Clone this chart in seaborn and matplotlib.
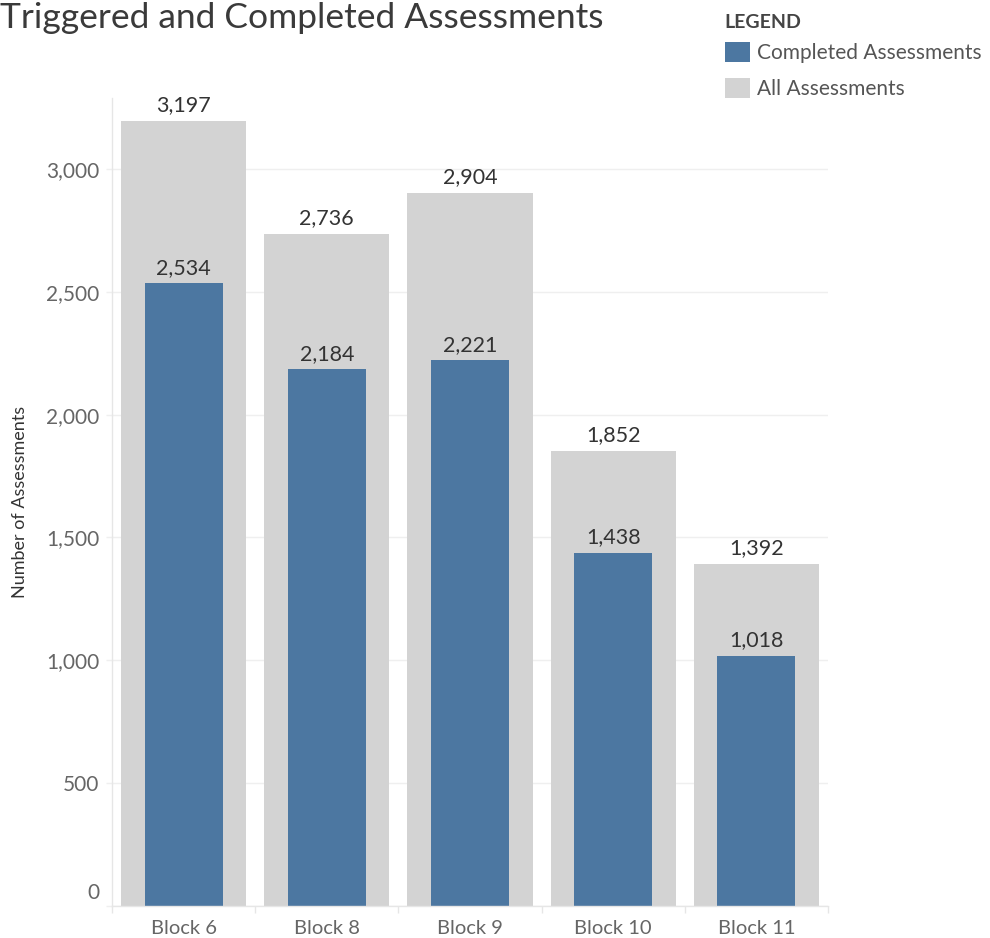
import numpy as np
import pandas as pd
import seaborn as sns
import matplotlib.pyplot as plt
from matplotlib.patches import Patch
from matplotlib.transforms import ScaledTranslation

# data
blocks = ['Block 6', 'Block 8', 'Block 9', 'Block 10', 'Block 11']
all_assessments = [3197, 2736, 2904, 1852, 1392]
completed_assessments = [2534, 2184, 2221, 1438, 1018]
y_ticks = [0, 500, 1000, 1500, 2000, 2500, 3000]

grey = '#d3d3d3'
blue = '#4c77a1'
font = ['Lato', 'DejaVu Sans']

sns.set_style('white')
plt.rcParams['font.family'] = font

df = pd.DataFrame({'block': blocks, 'all': all_assessments, 'completed': completed_assessments})

fig = plt.figure(figsize=(9.9, 9.38), dpi=100)
ax = fig.add_axes([112 / 990, 1 - 906 / 938, 716 / 990, 808 / 938])
ax.set_axisbelow(True)

# grey bars behind, blue bars in front
sns.barplot(data=df, x='block', y='all', color=grey, width=0.875, saturation=1,
            linewidth=0, ax=ax)
sns.barplot(data=df, x='block', y='completed', color=blue, width=0.545, saturation=1,
            linewidth=0, ax=ax)

for cont in ax.containers:
    ax.bar_label(cont, labels=[f'{v:,.0f}' for v in cont.datavalues], padding=4,
                 fontsize=15.5, color='#333333')

ax.set_xlim(-0.5, 4.5)
ax.set_ylim(0, 3289)
ax.set_yticks(y_ticks)
ax.set_yticklabels([f'{v:,}' for v in y_ticks])
ax.set_xticks(np.arange(-0.5, 5, 1), minor=True)
ax.yaxis.grid(True, color='#efefef', lw=1)
ax.tick_params(axis='y', which='major', length=4, width=1, color='#efefef', pad=5,
               labelsize=15, labelcolor='#666666', left=True)
ax.tick_params(axis='x', which='major', length=0, pad=10, labelsize=14.5, labelcolor='#666666')
ax.tick_params(axis='x', which='minor', length=5, width=1, color='#e6e6e6', bottom=True)

for side in ['top', 'right']:
    ax.spines[side].set_visible(False)
for side in ['left', 'bottom']:
    ax.spines[side].set_color('#e6e6e6')
    ax.spines[side].set_linewidth(1)

ax.set_xlabel('')
ax.set_ylabel('Number of Assessments', fontsize=13, color='#333333')
ax.yaxis.set_label_coords(-0.117, 0.5)

# zero label sits above the baseline, like the original
zero_lab = ax.get_yticklabels()[0]
zero_lab.set_transform(zero_lab.get_transform() + ScaledTranslation(0, 15 / 100, fig.dpi_scale_trans))

fig.text(0.0, 1 - 2 / 938, 'Triggered and Completed Assessments', fontsize=25.5,
         color='#3a3a3a', va='top', ha='left')

handles = [Patch(facecolor=blue, edgecolor='none', label='Completed Assessments'),
           Patch(facecolor=grey, edgecolor='none', label='All Assessments')]
leg = fig.legend(handles=handles, title='LEGEND', loc='upper left',
                 bbox_to_anchor=(706 / 990, 1 + 5 / 938), frameon=False, fontsize=15,
                 title_fontproperties={'weight': 'bold', 'size': 14, 'family': font},
                 alignment='left', handlelength=1.2, handleheight=1.1,
                 handletextpad=0.35, labelspacing=0.7, labelcolor='#555555')
leg.get_title().set_color('#444444')
# a little more room under the legend title
leg._legend_box.sep = 8

fig.savefig('out.png', dpi=100)
